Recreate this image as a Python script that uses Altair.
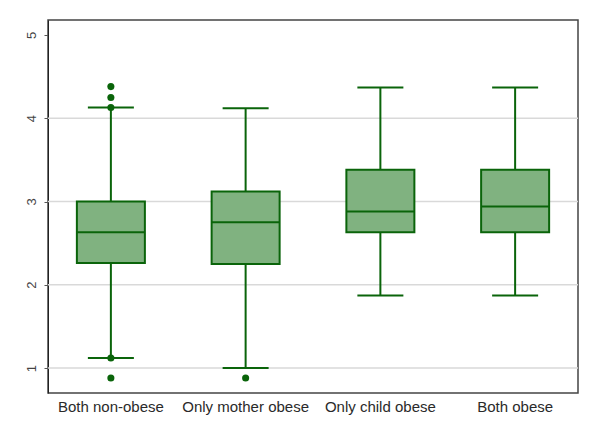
import altair as alt
import pandas as pd

categories = ["Both non-obese", "Only mother obese", "Only child obese", "Both obese"]
whisker_low = [1.12, 1.0, 1.87, 1.87]
q1 = [2.26, 2.25, 2.63, 2.63]
median = [2.63, 2.75, 2.88, 2.94]
q3 = [3.0, 3.12, 3.38, 3.38]
whisker_high = [4.13, 4.12, 4.37, 4.37]

outlier_cat = ["Both non-obese"] * 5 + ["Only mother obese"]
outlier_val = [4.38, 4.25, 4.13, 1.12, 0.88, 0.88]

grid_vals = [1, 2, 3, 4]
y_ticks = [1, 2, 3, 4, 5]

stats = pd.DataFrame({"cat": categories, "lo": whisker_low, "q1": q1,
                      "med": median, "q3": q3, "hi": whisker_high})
outs = pd.DataFrame({"cat": outlier_cat, "v": outlier_val})
grid = pd.DataFrame({"g": grid_vals})

FILL = "#80b280"
STROKE = "#0a640a"

yscale = alt.Scale(domain=[0.7, 5.18], nice=False, zero=False)
xscale = alt.Scale(domain=categories, paddingInner=0, paddingOuter=0,
                   range=[-4.5, 534.5])

x_enc = alt.X("cat:N", scale=xscale, sort=categories,
              axis=alt.Axis(title=None, labelAngle=0, ticks=False, domain=False,
                            labelFontSize=15, labelFont="Liberation Sans",
                            labelColor="#2a2a2a", labelPadding=6))

gridlayer = alt.Chart(grid).mark_rule(color="#d9d9d9", strokeWidth=1.5).encode(
    y=alt.Y("g:Q", scale=yscale,
            axis=alt.Axis(title=None, values=y_ticks, grid=False, tickSize=4,
                          format="d",
                          tickColor="#555555", domainColor="#222222",
                          labelAngle=270, labelAlign="center", labelBaseline="bottom",
                          labelFontSize=13, labelFont="Liberation Sans",
                          labelColor="#444444", labelPadding=6)))

base = alt.Chart(stats)

whisk = base.mark_rule(color=STROKE, strokeWidth=2).encode(
    x=x_enc, y=alt.Y("lo:Q", scale=yscale), y2="hi:Q")

box = base.mark_bar(size=68, fill=FILL, stroke=STROKE, strokeWidth=2).encode(
    x=x_enc, y=alt.Y("q1:Q", scale=yscale), y2="q3:Q")

med = base.mark_tick(size=68, thickness=2, color=STROKE, opacity=1).encode(
    x=x_enc, y=alt.Y("med:Q", scale=yscale))

cap_lo = base.mark_tick(size=46, thickness=2, color=STROKE, opacity=1).encode(
    x=x_enc, y=alt.Y("lo:Q", scale=yscale))
cap_hi = base.mark_tick(size=46, thickness=2, color=STROKE, opacity=1).encode(
    x=x_enc, y=alt.Y("hi:Q", scale=yscale))

pts = alt.Chart(outs).mark_circle(size=50, color=STROKE, opacity=1).encode(
    x=x_enc, y=alt.Y("v:Q", scale=yscale))

chart = alt.layer(gridlayer, whisk, box, med, cap_lo, cap_hi, pts).properties(
    width=530, height=373,
    autosize=alt.AutoSizeParams(type="none"),
    padding={"left": 40, "top": 12, "right": 10, "bottom": 40},
    background="white",
).configure_view(stroke="#444444", strokeWidth=1.5)

chart.save("out.html", embed_options={"renderer": "svg", "actions": False})
